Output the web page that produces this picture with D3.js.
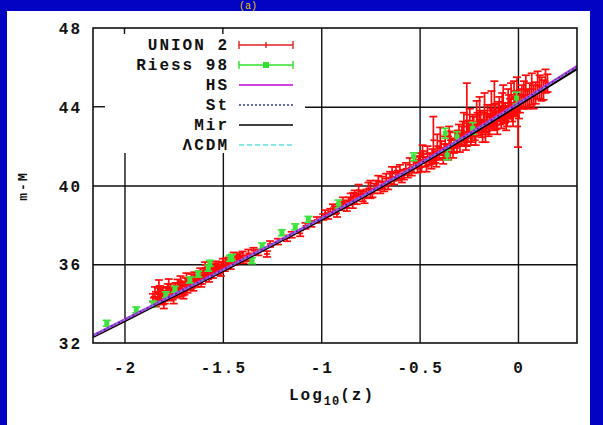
<meta charset="utf-8">
<style>
body { margin: 0; background: #0303c3; }
.lbl { font-family: "Liberation Mono", "DejaVu Sans Mono", monospace; font-weight: bold; font-size: 16px; letter-spacing: 2px; fill: #111; }
.grid line { stroke: #111; stroke-width: 1.4px; }
.grid path { display: none; }
</style>
<body>
<script src="https://d3js.org/d3.v7.min.js"></script>
<script>
// tick values
var xTicks = [-2, -1.5, -1, -0.5, 0];
var yTicks = [32, 36, 40, 44, 48];

// model curves (log10 z, m-M)
var modelZ   = [-2.16, -2.0, -1.8, -1.6, -1.4, -1.2, -1.0, -0.824, -0.699, -0.523, -0.398, -0.222, -0.097, 0, 0.176, 0.301];
var muLCDM   = [32.37, 33.18, 34.19, 35.20, 36.23, 37.27, 38.32, 39.27, 39.97, 40.97, 41.70, 42.77, 43.54, 44.14, 45.24, 46.02];
var muHS     = [32.38, 33.19, 34.20, 35.21, 36.24, 37.28, 38.33, 39.28, 39.99, 40.99, 41.72, 42.80, 43.57, 44.17, 45.28, 46.06];
var muSt     = [32.38, 33.19, 34.20, 35.21, 36.24, 37.28, 38.33, 39.28, 39.98, 40.98, 41.71, 42.79, 43.56, 44.16, 45.27, 46.05];
var muMir    = [32.30, 33.11, 34.12, 35.13, 36.16, 37.20, 38.25, 39.20, 39.90, 40.90, 41.63, 42.69, 43.46, 44.06, 45.15, 45.93];

// Riess 98: [log10 z, m-M, error]
var riess98 = [
  [-2.09, 33.0, 0.15], [-1.94, 33.68, 0.15], [-1.854, 33.98, 0.15], [-1.79, 34.45, 0.15],
  [-1.744, 34.73, 0.15], [-1.668, 35.2, 0.15], [-1.625, 35.5, 0.15], [-1.574, 35.8, 0.15],
  [-1.566, 36.05, 0.15], [-1.464, 36.3, 0.15], [-1.454, 36.35, 0.15], [-1.352, 36.18, 0.15],
  [-1.30, 36.93, 0.15], [-1.20, 37.6, 0.15], [-1.132, 37.9, 0.15], [-1.065, 38.28, 0.15],
  [-0.912, 39.06, 0.2], [-0.53, 41.46, 0.2], [-0.36, 41.55, 0.25], [-0.37, 42.65, 0.25],
  [-0.31, 42.48, 0.25], [-0.23, 42.9, 0.3], [-0.007, 44.44, 0.3]
];

// UNION 2: [log10 z, m-M, error]
var union2 = [
  [-1.84, 34.05, 0.2], [-1.83, 34.55, 0.25], [-1.82, 34.7, 0.2], [-1.81, 34.2, 0.15],
  [-1.80, 33.95, 0.2], [-1.79, 34.4, 0.2], [-1.78, 34.8, 0.2], [-1.77, 34.3, 0.15],
  [-1.76, 34.55, 0.2], [-1.75, 34.2, 0.2], [-1.74, 34.9, 0.15], [-1.73, 35.03, 0.2],
  [-1.72, 34.5, 0.15], [-1.71, 34.75, 0.2], [-1.70, 34.4, 0.15], [-1.69, 35.1, 0.2],
  [-1.68, 34.7, 0.15], [-1.67, 34.95, 0.15], [-1.66, 35.3, 0.2], [-1.65, 34.8, 0.15],
  [-1.64, 35.05, 0.15], [-1.63, 35.2, 0.15], [-1.62, 35.45, 0.2], [-1.61, 35.0, 0.15],
  [-1.60, 35.3, 0.15], [-1.59, 35.96, 0.15], [-1.58, 35.5, 0.15], [-1.57, 35.25, 0.15],
  [-1.56, 35.7, 0.15], [-1.55, 35.45, 0.15], [-1.54, 35.9, 0.15], [-1.53, 35.6, 0.15],
  [-1.52, 35.85, 0.15], [-1.51, 35.55, 0.15], [-1.50, 36.13, 0.15], [-1.49, 35.8, 0.15],
  [-1.48, 36.0, 0.15], [-1.47, 36.2, 0.15], [-1.46, 35.9, 0.15], [-1.44, 36.1, 0.15],
  [-1.43, 36.35, 0.15], [-1.412, 36.42, 0.15], [-1.38, 36.3, 0.15], [-1.344, 36.69, 0.15],
  [-1.855, 34.3, 0.2], [-1.845, 34.6, 0.25], [-1.835, 34.15, 0.2], [-1.825, 34.9, 0.3],
  [-1.815, 34.45, 0.2], [-1.805, 34.6, 0.2], [-1.795, 34.15, 0.15], [-1.785, 34.65, 0.2],
  [-1.775, 35.0, 0.25], [-1.765, 34.8, 0.2], [-1.755, 34.45, 0.15], [-1.745, 34.65, 0.2],
  [-1.735, 34.45, 0.15], [-1.725, 34.85, 0.2], [-1.715, 35.15, 0.25], [-1.705, 34.9, 0.2],
  [-1.695, 34.6, 0.15], [-1.685, 35.3, 0.25], [-1.675, 35.0, 0.2], [-1.665, 34.85, 0.15],
  [-1.655, 35.15, 0.2], [-1.645, 35.4, 0.2], [-1.635, 35.0, 0.15], [-1.625, 35.3, 0.15],
  [-1.615, 35.6, 0.2], [-1.605, 35.15, 0.15], [-1.595, 35.5, 0.2], [-1.585, 35.75, 0.2],
  [-1.575, 35.4, 0.15], [-1.565, 35.55, 0.15], [-1.545, 35.65, 0.15], [-1.535, 35.95, 0.2],
  [-1.515, 35.75, 0.15], [-1.505, 35.9, 0.2], [-1.485, 36.1, 0.2], [-1.465, 36.05, 0.15],
  [-1.455, 36.25, 0.2], [-1.445, 36.4, 0.2], [-1.425, 36.2, 0.15], [-1.40, 36.45, 0.2],
  [-1.395, 36.2, 0.15], [-1.37, 36.55, 0.2], [-1.36, 36.35, 0.15],
  [-1.32, 36.6, 0.15], [-1.276, 36.52, 0.15], [-1.26, 37.03, 0.15], [-1.22, 37.15, 0.15],
  [-1.174, 37.32, 0.15], [-1.15, 37.5, 0.15], [-1.107, 37.57, 0.15], [-1.08, 37.95, 0.15],
  [-1.05, 38.05, 0.15], [-1.022, 38.25, 0.15], [-0.99, 38.4, 0.15], [-0.954, 38.67, 0.15],
  [-0.98, 38.55, 0.2], [-0.965, 38.45, 0.15], [-0.94, 38.85, 0.2], [-0.92, 38.6, 0.2],
  [-0.93, 38.75, 0.2], [-0.90, 38.95, 0.2], [-0.88, 39.05, 0.2], [-0.86, 39.2, 0.2],
  [-0.89, 39.15, 0.25], [-0.87, 38.9, 0.2], [-0.85, 39.35, 0.25], [-0.84, 39.05, 0.2],
  [-0.836, 39.43, 0.2], [-0.83, 39.6, 0.15], [-0.82, 39.3, 0.25], [-0.80, 39.55, 0.2],
  [-0.81, 39.75, 0.3], [-0.79, 39.45, 0.25], [-0.77, 39.6, 0.2], [-0.73, 39.85, 0.25],
  [-0.78, 39.35, 0.25], [-0.76, 39.85, 0.3], [-0.75, 39.8, 0.45], [-0.74, 39.6, 0.2],
  [-0.72, 40.0, 0.25], [-0.70, 39.8, 0.2], [-0.69, 40.15, 0.3], [-0.67, 40.35, 0.25],
  [-0.71, 40.2, 0.3], [-0.68, 39.95, 0.25], [-0.65, 40.4, 0.3], [-0.62, 40.65, 0.3],
  [-0.66, 40.0, 0.2], [-0.64, 40.6, 0.35], [-0.63, 40.25, 0.2], [-0.61, 40.5, 0.25],
  [-0.60, 40.75, 0.3], [-0.59, 40.35, 0.2], [-0.57, 40.85, 0.3], [-0.56, 40.6, 0.2],
  [-0.58, 40.55, 0.25], [-0.53, 40.95, 0.3], [-0.505, 41.2, 0.3], [-0.485, 41.6, 0.45],
  [-0.55, 41.05, 0.35], [-0.54, 40.7, 0.2], [-0.52, 41.15, 0.3], [-0.51, 40.9, 0.25],
  [-0.50, 41.3, 0.35], [-0.49, 40.95, 0.25], [-0.48, 41.45, 0.3], [-0.47, 41.2, 0.25],
  [-0.465, 41.0, 0.3], [-0.435, 41.55, 0.3], [-0.415, 41.3, 0.35], [-0.395, 42.25, 0.7],
  [-0.46, 41.6, 0.4], [-0.45, 41.35, 0.3], [-0.44, 41.1, 0.25], [-0.43, 42.3, 1.2],
  [-0.42, 41.45, 0.3], [-0.41, 42.0, 0.6], [-0.40, 41.6, 0.3], [-0.39, 41.9, 0.35],
  [-0.375, 41.75, 0.35], [-0.355, 41.6, 0.3], [-0.345, 42.3, 0.45], [-0.325, 42.0, 0.35],
  [-0.38, 41.4, 0.3], [-0.37, 42.1, 0.4], [-0.36, 41.8, 0.3], [-0.35, 42.5, 0.5],
  [-0.34, 42.05, 0.35], [-0.33, 41.7, 0.3], [-0.32, 42.3, 0.4], [-0.31, 42.0, 0.3],
  [-0.305, 42.4, 0.4], [-0.295, 42.1, 0.4], [-0.285, 42.55, 0.45], [-0.275, 43.0, 0.7],
  [-0.30, 42.6, 0.5], [-0.29, 42.4, 0.35], [-0.28, 42.75, 0.5], [-0.27, 42.3, 0.3],
  [-0.265, 42.2, 0.4], [-0.255, 42.7, 0.45], [-0.245, 43.2, 0.7], [-0.235, 42.6, 0.4],
  [-0.26, 43.6, 1.6], [-0.25, 42.9, 0.4], [-0.24, 42.4, 0.35], [-0.23, 43.1, 0.5],
  [-0.225, 43.0, 0.5], [-0.215, 42.5, 0.45], [-0.205, 43.2, 0.5], [-0.195, 43.6, 0.9],
  [-0.22, 42.7, 0.4], [-0.21, 43.5, 0.8], [-0.20, 42.9, 0.35], [-0.19, 43.3, 0.5],
  [-0.185, 42.9, 0.45], [-0.175, 43.2, 0.5], [-0.165, 42.7, 0.5], [-0.155, 43.5, 0.6],
  [-0.18, 42.6, 0.4], [-0.17, 43.8, 0.9], [-0.16, 43.2, 0.45], [-0.15, 42.9, 0.4],
  [-0.145, 43.1, 0.5], [-0.135, 43.9, 0.9], [-0.125, 43.3, 0.5], [-0.115, 43.6, 0.55],
  [-0.14, 43.5, 0.6], [-0.13, 43.4, 0.4], [-0.12, 44.1, 1.2], [-0.11, 43.3, 0.45],
  [-0.105, 43.1, 0.5], [-0.095, 43.9, 0.6], [-0.085, 43.4, 0.5], [-0.075, 44.2, 0.9],
  [-0.10, 43.75, 0.5], [-0.09, 43.5, 0.4], [-0.08, 44.0, 0.7], [-0.07, 43.6, 0.45],
  [-0.065, 43.7, 0.5], [-0.055, 43.5, 0.5], [-0.045, 44.0, 0.6], [-0.035, 44.4, 0.8],
  [-0.06, 43.3, 0.5], [-0.05, 44.2, 0.7], [-0.04, 43.9, 0.5], [-0.03, 43.7, 0.45],
  [-0.025, 43.6, 0.6], [-0.015, 44.2, 0.6], [-0.005, 44.6, 0.9], [0.005, 44.0, 0.6],
  [-0.02, 44.5, 0.8], [-0.01, 44.0, 0.5], [0.00, 43.0, 1.05], [0.01, 44.3, 0.6],
  [0.02, 44.5, 0.6], [0.04, 44.8, 0.8], [0.06, 44.6, 0.6], [0.08, 44.5, 0.6],
  [0.03, 44.6, 0.7], [0.05, 44.4, 0.5], [0.07, 44.9, 0.8], [0.09, 44.7, 0.55],
  [0.10, 45.1, 0.7], [0.12, 44.9, 0.6], [0.14, 45.3, 0.6],
  [0.11, 45.0, 0.6], [0.13, 44.85, 0.5], [0.15, 45.2, 0.45]
];

var legendNames = ["UNION 2", "Riess 98", "HS", "St", "Mir", "ΛCDM"];

var margin = {top: 28, right: 577, bottom: 343, left: 93};

var svg = d3.select("body").append("svg")
    .attr("width", 603)
    .attr("height", 425)
    .style("display", "block");

// white page on blue
svg.append("rect").attr("width", 603).attr("height", 425).attr("fill", "#0303c3");
svg.append("rect").attr("x", 7).attr("y", 11).attr("width", 583).attr("height", 414).attr("fill", "#fff");

svg.append("text")
    .attr("x", 248).attr("y", 9)
    .attr("text-anchor", "middle")
    .attr("fill", "#e8c800")
    .style("font", "10px 'Liberation Mono'")
    .text("(a)");

var x = d3.scaleLinear().domain([-2.16, 0.30]).range([margin.left, margin.right]);
var y = d3.scaleLinear().domain([32, 48]).range([margin.bottom, margin.top]);

// grid lines
svg.append("g")
    .attr("class", "grid")
    .attr("transform", "translate(0," + margin.bottom + ")")
    .call(d3.axisBottom(x).tickValues(xTicks).tickSize(-(margin.bottom - margin.top)).tickFormat(""));
svg.append("g")
    .attr("class", "grid")
    .attr("transform", "translate(" + margin.left + ",0)")
    .call(d3.axisLeft(y).tickValues([36, 40, 44]).tickSize(-(margin.right - margin.left)).tickFormat(""));

// key box hides the grid
svg.append("rect")
    .attr("x", margin.left + 1).attr("y", margin.top + 1)
    .attr("width", 211).attr("height", 124)
    .attr("fill", "#fff");
// mirror ticks inside key box
xTicks.forEach(function(t) {
  if (x(t) < 305) {
    svg.append("line").attr("x1", x(t)).attr("x2", x(t))
      .attr("y1", margin.top).attr("y2", margin.top + 6)
      .attr("stroke", "#111").attr("stroke-width", 1.4);
  }
});
svg.append("line").attr("x1", margin.left).attr("x2", margin.left + 12)
    .attr("y1", y(44)).attr("y2", y(44))
    .attr("stroke", "#111").attr("stroke-width", 1.4);

// tick labels
svg.selectAll(".xl").data(xTicks).enter().append("text")
    .attr("class", "lbl")
    .attr("x", function(d) { return x(d) + 1; })
    .attr("y", 373)
    .attr("text-anchor", "middle")
    .text(function(d) { return String(d); });
svg.selectAll(".yl").data(yTicks).enter().append("text")
    .attr("class", "lbl")
    .attr("x", 82)
    .attr("y", function(d) { return y(d) + 6; })
    .attr("text-anchor", "end")
    .text(function(d) { return d; });

// axis titles
var xt = svg.append("text")
    .attr("class", "lbl")
    .attr("x", 332).attr("y", 400)
    .attr("text-anchor", "middle");
xt.append("tspan").text("Log");
xt.append("tspan").attr("dy", 5).style("font-size", "12px").style("letter-spacing", "1px").text("10");
xt.append("tspan").attr("dy", -5).text("(z)");

svg.append("text")
    .attr("class", "lbl")
    .attr("transform", "translate(27,186) rotate(-90)")
    .attr("text-anchor", "middle")
    .style("font-size", "13px")
    .text("m-M");

var plot = svg.append("g");

// error bars
function drawBars(data, color, marker) {
  var g = plot.append("g").attr("stroke", color).attr("stroke-width", 1.7).attr("fill", color);
  data.forEach(function(d) {
    var cx = x(d[0]), y1 = y(d[1] + d[2]), y2 = y(d[1] - d[2]);
    g.append("line").attr("x1", cx).attr("x2", cx).attr("y1", y1).attr("y2", y2);
    g.append("line").attr("x1", cx - 4).attr("x2", cx + 4).attr("y1", y1).attr("y2", y1);
    g.append("line").attr("x1", cx - 4).attr("x2", cx + 4).attr("y1", y2).attr("y2", y2);
    if (marker == "square") {
      g.append("rect").attr("x", cx - 2.5).attr("y", y(d[1]) - 2.5).attr("width", 5).attr("height", 5).attr("stroke", "none");
    } else {
      g.append("line").attr("x1", cx - 3).attr("x2", cx + 3).attr("y1", y(d[1])).attr("y2", y(d[1]));
    }
  });
}
drawBars(union2, "#ff0a0a", "plus");
drawBars(riess98, "#3ee43e", "square");

// model curves
var curve = function(mu) {
  return d3.line()
    .x(function(d, i) { return x(modelZ[i]); })
    .y(function(d, i) { return y(mu[i]); })
    .curve(d3.curveMonotoneX)(mu);
};
plot.append("path").attr("d", curve(muMir)).attr("fill", "none").attr("stroke", "#000").attr("stroke-width", 2.2);
plot.append("path").attr("d", curve(muHS)).attr("fill", "none").attr("stroke", "#c040e0").attr("stroke-width", 2.6);
plot.append("path").attr("d", curve(muSt)).attr("fill", "none").attr("stroke", "#2a2aa8").attr("stroke-width", 1.4).attr("stroke-dasharray", "2,2");
plot.append("path").attr("d", curve(muLCDM)).attr("fill", "none").attr("stroke", "#5ee0e0").attr("stroke-width", 1).attr("stroke-dasharray", "4,4").attr("opacity", 0.5);

// clip to frame
svg.append("defs").append("clipPath").attr("id", "clip")
  .append("rect").attr("x", margin.left).attr("y", margin.top)
  .attr("width", margin.right - margin.left).attr("height", margin.bottom - margin.top);
plot.attr("clip-path", "url(#clip)");

// frame
svg.append("rect")
    .attr("x", margin.left).attr("y", margin.top)
    .attr("width", margin.right - margin.left).attr("height", margin.bottom - margin.top)
    .attr("fill", "none").attr("stroke", "#111").attr("stroke-width", 1.6);

// key
var key = svg.append("g");
var styles = [
  {c: "#e02020", w: 1.4, dash: null, bars: "plus"},
  {c: "#30e030", w: 1.4, dash: null, bars: "square"},
  {c: "#cc44dd", w: 2, dash: null},
  {c: "#3030a0", w: 1.4, dash: "2,2"},
  {c: "#000", w: 1.6, dash: null},
  {c: "#60e0e0", w: 1.6, dash: "5,3"}
];
legendNames.forEach(function(name, i) {
  var ky = 45 + i * 20;
  key.append("text").attr("class", "lbl")
      .attr("x", 229).attr("y", ky + 5)
      .attr("text-anchor", "end")
      .text(name);
  var s = styles[i];
  key.append("line").attr("x1", 239).attr("x2", 293).attr("y1", ky).attr("y2", ky)
      .attr("stroke", s.c).attr("stroke-width", s.w).attr("stroke-dasharray", s.dash);
  if (s.bars) {
    [239, 293].forEach(function(ex) {
      key.append("line").attr("x1", ex).attr("x2", ex).attr("y1", ky - 4).attr("y2", ky + 4)
          .attr("stroke", s.c).attr("stroke-width", s.w);
    });
    if (s.bars == "square") {
      key.append("rect").attr("x", 263).attr("y", ky - 3).attr("width", 6).attr("height", 6).attr("fill", s.c);
    } else {
      key.append("line").attr("x1", 266).attr("x2", 266).attr("y1", ky - 3).attr("y2", ky + 3)
          .attr("stroke", s.c).attr("stroke-width", s.w);
    }
  }
});
</script>
</body>
